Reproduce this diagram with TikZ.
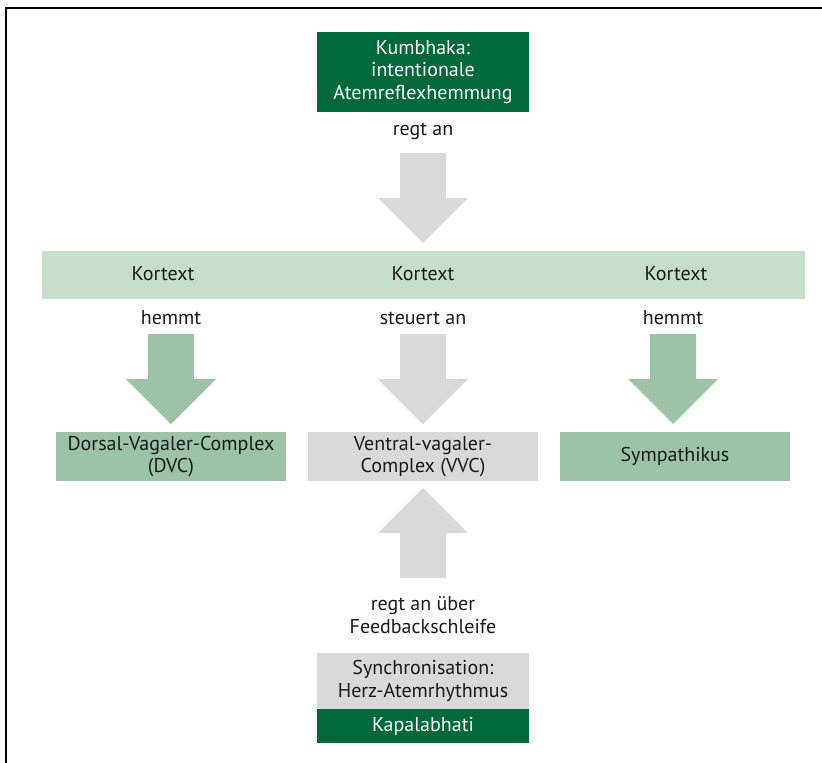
\documentclass[tikz,border=0pt]{standalone}
\usepackage{fontspec}
\setmainfont{PT Sans}
\definecolor{darkgr}{HTML}{00693C}
\definecolor{bandgr}{HTML}{C7DECD}
\definecolor{midgr}{HTML}{9CC2A8}
\definecolor{lgray}{HTML}{D9D9D9}
\definecolor{txt}{HTML}{1A1A1A}
\tikzset{
  box/.style={rectangle, inner sep=0pt, align=center, font=\fontsize{20}{22.5}\selectfont},
  darkbox/.style={box, fill=darkgr, text=white},
  greenbox/.style={box, fill=midgr, text=txt},
  graybox/.style={box, fill=lgray, text=txt},
  lbl/.style={inner sep=0pt, align=center, text=txt, font=\fontsize{20}{23.5}\selectfont},
  blockarrow/.pic={\path[pic actions] (-23,0) -- (23,0) -- (23,45) -- (45,45) -- (0,90) -- (-45,45) -- (-23,45) -- cycle;}
}
\begin{document}
\begin{tikzpicture}[x=1pt,y=-1pt]
\useasboundingbox (0,0) rectangle (822,763);
\draw[line width=2pt] (6,764) -- (6,8) -- (823,8);
% top box
\node[darkbox, minimum width=212pt, minimum height=80pt] (kumb) at (423,72) {Kumbhaka:\\intentionale\\Atemreflexhemmung};
\node[lbl] (regt) at (423,131) {regt an};
\pic[fill=lgray] at (423,153) {blockarrow};
% band
\node[rectangle, fill=bandgr, minimum width=763pt, minimum height=48pt, inner sep=0pt] (band) at (423.5,275) {};
\node[lbl] (k1) at (163,274) {Kortext};
\node[lbl] (k2) at (423,274) {Kortext};
\node[lbl] (k3) at (676,274) {Kortext};
\node[lbl] (h1) at (171,318) {hemmt};
\node[lbl] (s2) at (423,318) {steuert an};
\node[lbl] (h3) at (673,318) {hemmt};
\pic[fill=midgr] at (171,334) {blockarrow};
\pic[fill=lgray] at (423,334) {blockarrow};
\pic[fill=midgr] at (673,334) {blockarrow};
% boxes
\node[greenbox, minimum width=230pt, minimum height=49pt] (dvc) at (171,456.5) {Dorsal-Vagaler-Complex\\(DVC)};
\node[graybox, minimum width=230pt, minimum height=49pt] (vvc) at (423,456.5) {Ventral-vagaler-\\Complex (VVC)};
\node[greenbox, minimum width=230pt, minimum height=49pt] (sym) at (675,456.5) {Sympathikus};
% up arrow
\pic[fill=lgray, rotate=180] at (423,578) {blockarrow};
\node[lbl] (fb) at (423,615) {regt an über\\Feedbackschleife};
\node[graybox, minimum width=212pt, minimum height=56pt] (sync) at (423,681) {Synchronisation:\\Herz-Atemrhythmus};
\node[darkbox, minimum width=212pt, minimum height=34pt] (kapa) at (423,726) {Kapalabhati};
\end{tikzpicture}
\end{document}
